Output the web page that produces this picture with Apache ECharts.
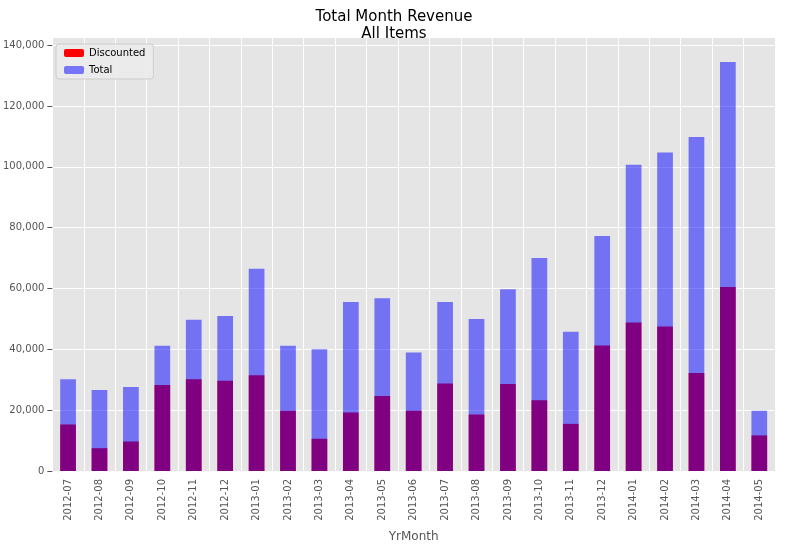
<!DOCTYPE html><html><head><meta charset="utf-8">
<script src="https://cdn.jsdelivr.net/npm/echarts@6/dist/echarts.min.js"></script>
<style>body{margin:0}#c{width:788px;height:548px}</style></head><body><div id="c"></div>
<script>
const months=['2012-07','2012-08','2012-09','2012-10','2012-11','2012-12','2013-01','2013-02','2013-03','2013-04','2013-05','2013-06','2013-07','2013-08','2013-09','2013-10','2013-11','2013-12','2014-01','2014-02','2014-03','2014-04','2014-05'];
const discounted=[15300,7500,9700,28300,30200,29700,31500,19800,10600,19200,24700,19800,28800,18600,28600,23300,15500,41300,48800,47500,32200,60500,11700];
const total=[30200,26600,27600,41200,49700,51000,66500,41200,40000,55600,56800,39000,55600,50000,59800,70000,45800,77300,100700,104700,109800,134500,19800];
const ch=echarts.init(document.getElementById('c'));
const f='DejaVu Sans';
ch.setOption({
 textStyle:{fontFamily:f},
 title:{text:'Total Month Revenue\nAll Items',left:'center',top:4,textStyle:{fontFamily:f,fontWeight:'normal',fontSize:15,color:'#000',lineHeight:17}},
 legend:{left:56,top:44,orient:'vertical',itemWidth:20,itemHeight:8,itemGap:7,backgroundColor:'rgba(235,235,235,0.9)',borderColor:'#ccc',borderWidth:1,borderRadius:3,padding:[4,8],textStyle:{fontSize:10,color:'#000'},data:['Discounted','Total']},
 grid:{left:50,right:13,top:37,bottom:73,show:true,backgroundColor:'#e5e5e5',borderWidth:0},
 xAxis:{type:'category',data:months,name:'YrMonth',nameLocation:'middle',nameGap:60,nameTextStyle:{fontSize:12,color:'#555'},
  axisLine:{show:false},axisTick:{alignWithLabel:true,lineStyle:{color:'#555'}},axisLabel:{rotate:90,fontSize:10,color:'#555'},
  splitLine:{show:true,lineStyle:{color:'#fff'}}},
 yAxis:{type:'value',min:0,max:142700,interval:20000,axisLine:{show:false},axisTick:{show:true,lineStyle:{color:'#555'}},
  axisLabel:{fontSize:10,color:'#555',showMaxLabel:false},splitLine:{lineStyle:{color:'#fff'}}},
 series:[
  {name:'Discounted',type:'bar',data:discounted,barWidth:'50%',itemStyle:{color:'#ff0000'}},
  {name:'Total',type:'bar',data:total,barWidth:'50%',barGap:'-100%',itemStyle:{color:'rgba(0,0,255,0.5)'}}
 ]
});
</script></body></html>
